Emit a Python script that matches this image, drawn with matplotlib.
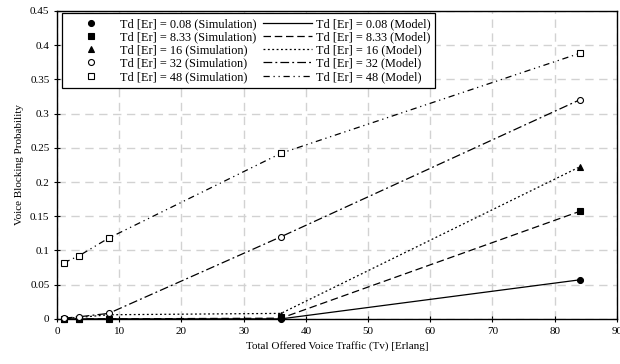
import numpy as np
from matplotlib import pyplot as plt

plt.rcParams['font.family'] = ['Liberation Serif', 'DejaVu Serif']

# offered traffic (Erlang)
traffic = [1.1, 3.5, 8.3, 36, 84]

delays = ['0.08', '8.33', '16', '32', '48']

sim_008 = [0.0, 0.0, 0.0, 0.0, 0.057]
sim_833 = [0.0, 0.0, 0.0, 0.002, 0.157]
sim_16 = [0.0, 0.0, 0.001, 0.006, 0.222]
sim_32 = [0.001, 0.003, 0.008, 0.120, 0.320]
sim_48 = [0.082, 0.092, 0.118, 0.242, 0.388]

mod_008 = [0.0, 0.0, 0.0, 0.0, 0.057]
mod_833 = [0.0, 0.0, 0.0, 0.001, 0.157]
mod_16 = [0.001, 0.002, 0.006, 0.008, 0.222]
mod_32 = [0.001, 0.003, 0.008, 0.120, 0.320]
mod_48 = [0.082, 0.092, 0.118, 0.242, 0.388]

sims = [sim_008, sim_833, sim_16, sim_32, sim_48]
mods = [mod_008, mod_833, mod_16, mod_32, mod_48]

markers = [('o', 'black'), ('s', 'black'), ('^', 'black'), ('o', 'white'), ('s', 'white')]
styles = ['-', (0, (6, 3)), (0, (1.5, 2)), (0, (7, 2.5, 1.5, 2.5)), (0, (5, 3, 1, 3, 1, 3))]

fig = plt.figure(figsize=(6.2, 3.64), dpi=100)
ax = fig.add_axes([0.092, 0.124, 0.903, 0.846])

sim_handles = []
mod_handles = []
for i in range(5):
    l, = ax.plot(traffic, mods[i], color='black', linestyle=styles[i], linewidth=0.9)
    m, = ax.plot(traffic, sims[i], linestyle='none', marker=markers[i][0],
                 markerfacecolor=markers[i][1], markeredgecolor='black',
                 markersize=4.3, markeredgewidth=0.8, clip_on=False, zorder=5)
    sim_handles.append(m)
    mod_handles.append(l)

ax.set_xlim(0, 90)
ax.set_ylim(0, 0.45)
ax.set_xticks(np.arange(0, 91, 10))
ax.set_yticks(np.arange(0, 0.451, 0.05))
ax.set_yticklabels(['0', '0.05', '0.1', '0.15', '0.2', '0.25', '0.3', '0.35', '0.4', '0.45'])
ax.tick_params(labelsize=8, direction='inout', length=4, width=0.8)
ax.grid(True, color='#d2d2d2', linestyle=(0, (6, 4)), linewidth=1)
for s in ax.spines.values():
    s.set_linewidth(1)

ax.set_xlabel('Total Offered Voice Traffic (Tv) [Erlang]', fontsize=8)
ax.set_ylabel('Voice Blocking Probability', fontsize=8)

labels = ['Td [Er] = %s (Simulation)' % d for d in delays] + \
         ['Td [Er] = %s (Model)' % d for d in delays]
leg = ax.legend(sim_handles + mod_handles, labels, ncol=2, loc='upper left',
                fontsize=8.8, fancybox=False, framealpha=1, edgecolor='black',
                handlelength=4, handletextpad=0.3, columnspacing=0.6,
                labelspacing=0.1, borderpad=0.4, borderaxespad=0,
                bbox_to_anchor=(0.009, 0.993))
leg.get_frame().set_linewidth(0.9)

plt.savefig('out.png', dpi=100)
